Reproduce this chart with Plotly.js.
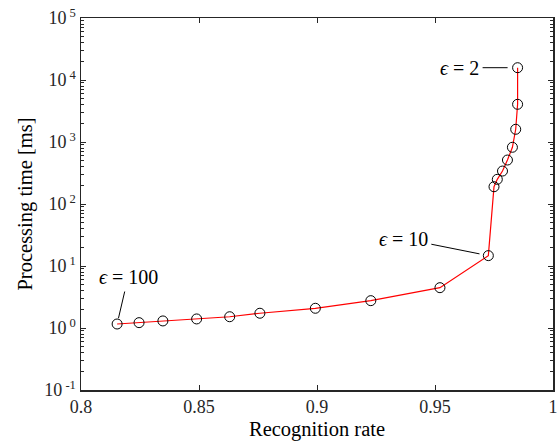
<!DOCTYPE html>
<html>
<head>
<meta charset="utf-8">
<script src="https://cdn.plot.ly/plotly-3.0.1.min.js"></script>
<style>html,body{margin:0;padding:0;background:#fff;}#chart{width:559px;height:443px;}</style>
</head>
<body>
<div id="chart"></div>
<script>
// Data
const recognitionRate = [0.8153, 0.8246, 0.8347, 0.8490, 0.8630, 0.8758, 0.8993, 0.9228, 0.9521, 0.9726, 0.9750, 0.9764, 0.9786, 0.9807, 0.9828, 0.9842, 0.9850, 0.9850];
const processingTime  = [1.16, 1.22, 1.30, 1.40, 1.52, 1.73, 2.08, 2.76, 4.47, 14.7, 190, 250, 340, 512, 822, 1603, 4056, 15790];

const xTickVals = [0.8, 0.85, 0.9, 0.95, 1];
const xTickText = ["0.8", "0.85", "0.9", "0.95", "1"];
const yTickVals = [0.1, 1, 10, 100, 1000, 10000, 100000];
const yTickText = ["10<sup> -1</sup>", "10<sup> 0</sup>", "10<sup> 1</sup>", "10<sup> 2</sup>", "10<sup> 3</sup>", "10<sup> 4</sup>", "10<sup> 5</sup>"];

// labelled points: index into the series and label text
const labelIdx = [17, 9, 0];
const labelText = ["<i>ϵ</i> = 2", "<i>ϵ</i> = 10", "<i>ϵ</i> = 100"];

const minorY = [];
for (let e = -1; e < 5; e++) for (let m = 2; m <= 9; m++) minorY.push(m * Math.pow(10, e));

const font = "Liberation Serif";
const axisColor = "#262626";

const trace = {
  x: recognitionRate, y: processingTime, type: "scatter", mode: "lines+markers",
  line: {color: "#ff0000", width: 1.2},
  marker: {symbol: "circle-open", size: 10, color: "#000000", line: {width: 1, color: "#000"}},
  hoverinfo: "skip"
};

const offsets = [[-58, 0, 10], [-85, -17, 9], [11, -47, 6]];
const annotations = labelIdx.map((i, k) => ({
  x: recognitionRate[i], y: Math.log10(processingTime[i]), xref: "x", yref: "y",
  text: labelText[k], showarrow: true, arrowhead: 0, arrowwidth: 1, arrowcolor: "#000",
  ax: offsets[k][0], ay: offsets[k][1], standoff: offsets[k][2], borderpad: 3,
  font: {family: font, size: 20, color: "#000"}
}));

const layout = {
  width: 559, height: 443,
  margin: {l: 81, r: 6, t: 18, b: 53},
  paper_bgcolor: "#fff", plot_bgcolor: "#fff",
  showlegend: false,
  font: {family: font, color: "#262626", size: 18},
  xaxis: {
    range: [0.8, 1], tickvals: xTickVals, ticktext: xTickText,
    ticks: "inside", ticklen: 5, tickcolor: axisColor,
    showline: true, linecolor: axisColor, linewidth: 1.5, mirror: "ticks",
    showgrid: false, zeroline: false,
    tickfont: {family: font, size: 18, color: "#262626"},
    title: {text: "Recognition rate", font: {family: font, size: 20.5, color: "#000"}, standoff: 5}
  },
  yaxis: {
    type: "log", range: [-1, 5], tickvals: yTickVals, ticktext: yTickText,
    ticks: "inside", ticklen: 5, tickcolor: axisColor,
    minor: {tickvals: minorY, ticks: "inside", ticklen: 3, tickcolor: axisColor, showgrid: false},
    showline: true, linecolor: axisColor, linewidth: 1.5, mirror: "ticks",
    showgrid: false, zeroline: false,
    tickfont: {family: font, size: 18, color: "#262626"},
    title: {text: "Processing time [ms]", font: {family: font, size: 20.5, color: "#000"}, standoff: 6}
  },
  annotations: annotations
};

Plotly.newPlot("chart", [trace], layout, {staticPlot: true, displayModeBar: false});
</script>
</body>
</html>
